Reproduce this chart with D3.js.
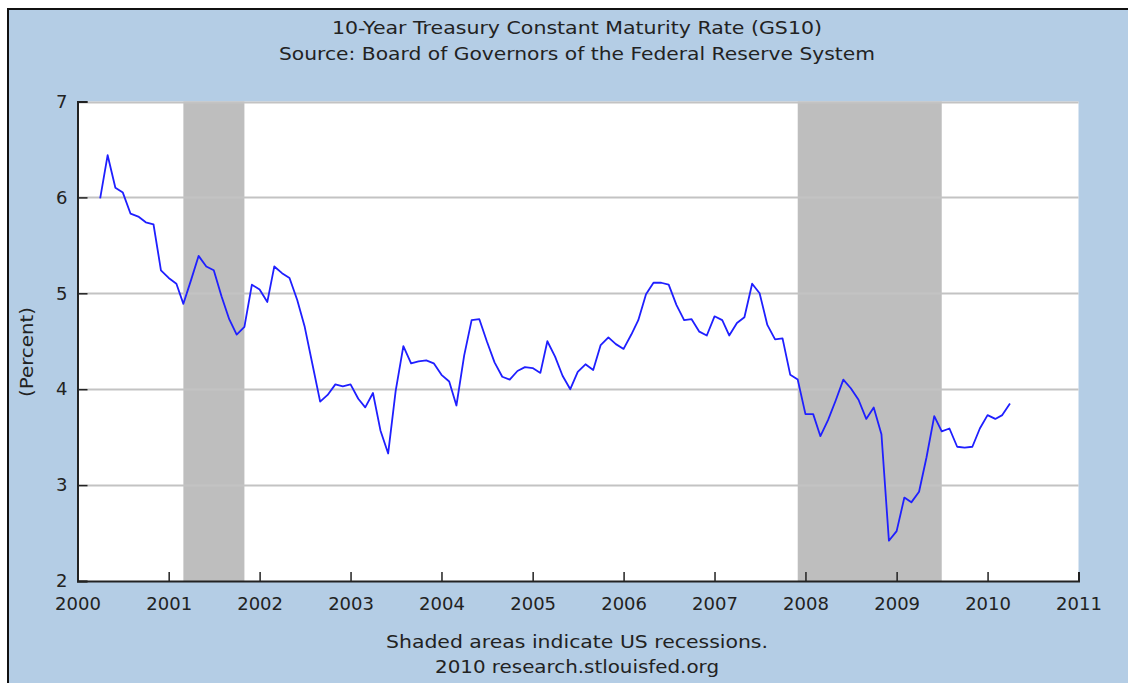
<!DOCTYPE html>
<html>
<head>
<meta charset="utf-8">
<script src="https://cdn.jsdelivr.net/npm/d3@7"></script>
<style>
  html, body { margin: 0; padding: 0; background: #fff; }
  svg { display: block; }
  text { font-family: "DejaVu Sans", sans-serif; fill: #222; }
</style>
</head>
<body>
<svg id="chart"></svg>
<script>
// monthly GS10, Apr 2000 .. Apr 2010
const startMonth = '2000-04';
const rates = [
  5.99, 6.44, 6.10, 6.05, 5.83, 5.80, 5.74, 5.72, 5.24,
  5.16, 5.10, 4.89, 5.14, 5.39, 5.28, 5.24, 4.97, 4.73, 4.57, 4.65, 5.09,
  5.04, 4.91, 5.28, 5.21, 5.16, 4.93, 4.65, 4.26, 3.87, 3.94, 4.05, 4.03,
  4.05, 3.90, 3.81, 3.96, 3.57, 3.33, 3.98, 4.45, 4.27, 4.29, 4.30, 4.27,
  4.15, 4.08, 3.83, 4.35, 4.72, 4.73, 4.50, 4.28, 4.13, 4.10, 4.19, 4.23,
  4.22, 4.17, 4.50, 4.34, 4.14, 4.00, 4.18, 4.26, 4.20, 4.46, 4.54, 4.47,
  4.42, 4.57, 4.72, 4.99, 5.11, 5.11, 5.09, 4.88, 4.72, 4.73, 4.60, 4.56,
  4.76, 4.72, 4.56, 4.69, 4.75, 5.10, 5.00, 4.67, 4.52, 4.53, 4.15, 4.10,
  3.74, 3.74, 3.51, 3.68, 3.88, 4.10, 4.01, 3.89, 3.69, 3.81, 3.53, 2.42,
  2.52, 2.87, 2.82, 2.93, 3.29, 3.72, 3.56, 3.59, 3.40, 3.39, 3.40, 3.59,
  3.73, 3.69, 3.73, 3.85
];
const recessions = [
  ['2001-03-01', '2001-11-01'],
  ['2007-12-01', '2009-07-01']
];
const yTicks = [2, 3, 4, 5, 6, 7];
const yearTicks = d3.range(2000, 2012);

const W = 1128, H = 683;
const svg = d3.select('#chart').attr('width', W).attr('height', H);

// outer frame (cropped on right/bottom)
svg.append('rect').attr('x', 8).attr('y', 9).attr('width', W).attr('height', H)
  .attr('fill', '#b4cde5').attr('stroke', '#111').attr('stroke-width', 2);

const parse = d3.timeParse('%Y-%m-%d');
const start = d3.timeParse('%Y-%m')(startMonth);
const data = rates.map((v, i) => ({ date: d3.timeMonth.offset(start, i), value: v }));

const x = d3.scaleTime()
  .domain([new Date(2000, 0, 1), new Date(2011, 0, 1)])
  .range([77.5, 1078.5]);
const y = d3.scaleLinear().domain([2, 7]).range([581, 101.5]);

const [x0, x1] = x.range();
const [yb, yt] = y.range();

svg.append('rect').attr('x', x0).attr('y', yt).attr('width', x1 - x0).attr('height', yb - yt)
  .attr('fill', '#fff');

svg.append('g').selectAll('rect')
  .data(recessions)
  .enter().append('rect')
  .attr('x', d => x(parse(d[0])))
  .attr('width', d => x(parse(d[1])) - x(parse(d[0])))
  .attr('y', yt)
  .attr('height', yb - yt)
  .attr('fill', '#bebebe');

// grid
svg.append('g').selectAll('line')
  .data(yTicks.filter(t => t > 2))
  .enter().append('line')
  .attr('x1', x0).attr('x2', x1)
  .attr('y1', d => Math.round(y(d)) + 0.5).attr('y2', d => Math.round(y(d)) + 0.5)
  .attr('stroke', '#c3c3c3').attr('stroke-width', 2);

const line = d3.line()
  .x(d => x(d.date))
  .y(d => y(d.value));

svg.append('path')
  .datum(data)
  .attr('fill', 'none')
  .attr('stroke', '#1f1fff')
  .attr('stroke-width', 1.8)
  .attr('stroke-linejoin', 'round')
  .attr('d', line);

// axes with inward ticks
const xAxis = svg.append('g')
  .attr('transform', `translate(0,${yb})`)
  .call(d3.axisBottom(x)
    .tickValues(yearTicks.map(yr => new Date(yr, 0, 1)))
    .tickSize(-9)
    .tickFormat(d3.timeFormat('%Y')));
xAxis.select('.domain').attr('stroke', '#222').attr('stroke-width', 2);
xAxis.selectAll('.tick line').attr('stroke', '#222').attr('stroke-width', 1.5);
xAxis.selectAll('.tick text')
  .attr('y', 16).attr('dy', '0.71em')
  .style('font-size', '18px')
  .attr('fill', '#222');

const yAxis = svg.append('g')
  .attr('transform', `translate(${x0},0)`)
  .call(d3.axisLeft(y).tickValues(yTicks).tickSize(-10).tickFormat(d3.format('d')));
yAxis.select('.domain').attr('stroke', '#222').attr('stroke-width', 2);
yAxis.selectAll('.tick line').attr('stroke', '#222').attr('stroke-width', 1.5);
yAxis.selectAll('.tick text')
  .attr('x', -10)
  .style('font-size', '18px')
  .attr('fill', '#222');

svg.append('text')
  .attr('transform', 'translate(33,352) rotate(-90)')
  .attr('text-anchor', 'middle')
  .attr('textLength', 90)
  .attr('lengthAdjust', 'spacingAndGlyphs')
  .style('font-size', '18px')
  .text('(Percent)');

// text, baseline y, measured width
const titles = [
  ['10-Year Treasury Constant Maturity Rate (GS10)', 34, 490],
  ['Source: Board of Governors of the Federal Reserve System', 60, 596],
  ['Shaded areas indicate US recessions.', 648, 382],
  ['2010 research.stlouisfed.org', 673, 284]
];
svg.append('g').selectAll('text')
  .data(titles)
  .enter().append('text')
  .attr('x', 577)
  .attr('y', d => d[1])
  .attr('text-anchor', 'middle')
  .attr('textLength', d => d[2])
  .attr('lengthAdjust', 'spacingAndGlyphs')
  .style('font-size', '18px')
  .text(d => d[0]);
</script>
</body>
</html>
